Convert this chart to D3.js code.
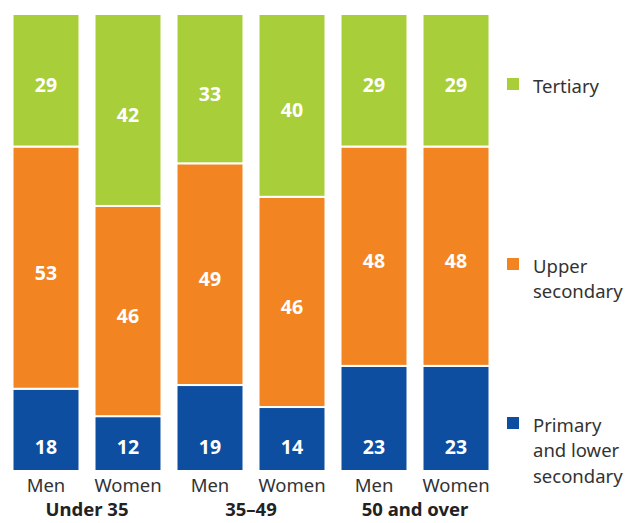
<!DOCTYPE html>
<html>
<head>
<meta charset="utf-8">
<script src="https://cdn.jsdelivr.net/npm/d3@7"></script>
<style>
  html, body { margin: 0; padding: 0; background: #fff; }
  svg { display: block; }
</style>
</head>
<body>
<svg id="chart" width="625" height="523"></svg>
<script>
// Bars: one per sex within each age group
const bars = ["Men|Under 35", "Women|Under 35", "Men|35–49", "Women|35–49", "Men|50 and over", "Women|50 and over"];
const sexLabels = ["Men", "Women", "Men", "Women", "Men", "Women"];
const ageGroups = ["Under 35", "35–49", "50 and over"];

// Educational attainment shares (%), bottom to top
const levels = ["Primary and lower secondary", "Upper secondary", "Tertiary"];
const primaryLower = [18, 12, 19, 14, 23, 23];
const upperSecondary = [53, 46, 49, 46, 48, 48];
const tertiary = [29, 42, 33, 40, 29, 29];

const colors = ["#0d4ea1", "#f28522", "#a8ce3a"];
const legendLines = [["Primary", "and lower", "secondary"], ["Upper", "secondary"], ["Tertiary"]];

const rows = bars.map((b, i) => ({
  bar: b,
  [levels[0]]: primaryLower[i],
  [levels[1]]: upperSecondary[i],
  [levels[2]]: tertiary[i]
}));

const stacked = d3.stack().keys(levels).offset(d3.stackOffsetExpand)(rows);

const svg = d3.select("#chart");
const font = "'Noto Sans', 'Open Sans', sans-serif";

const x = d3.scaleBand().domain(bars).range([12.5, 489.5]).paddingInner(0.183).paddingOuter(0);
const y = d3.scaleLinear().domain([0, 1]).range([471, 14]);
const color = d3.scaleOrdinal().domain(levels).range(colors);

const layers = svg.append("g").selectAll("g")
  .data(stacked)
  .join("g")
  .attr("fill", d => color(d.key));

layers.selectAll("rect")
  .data(d => d.map(s => Object.assign(s, { key: d.key })))
  .join("rect")
  .attr("x", d => x(d.data.bar))
  .attr("y", d => y(d[1]))
  .attr("width", x.bandwidth())
  .attr("height", d => y(d[0]) - y(d[1]))
  .attr("stroke", "#fff")
  .attr("stroke-width", 2);

// Value labels inside segments
layers.selectAll("text")
  .data(d => d)
  .join("text")
  .attr("x", d => x(d.data.bar) + x.bandwidth() / 2)
  .attr("y", d => d.key === levels[0] ? y(0) - 17 : (y(d[0]) + y(d[1])) / 2 + 12)
  .attr("text-anchor", "middle")
  .attr("fill", "#fff")
  .attr("font-family", font)
  .attr("font-weight", 700)
  .attr("font-size", 19.5)
  .text(d => d.data[d.key]);

// Sex labels under each bar
svg.append("g").selectAll("text")
  .data(bars)
  .join("text")
  .attr("x", d => x(d) + x.bandwidth() / 2)
  .attr("y", 492)
  .attr("text-anchor", "middle")
  .attr("fill", "#333")
  .attr("font-family", font)
  .attr("font-size", 18.5)
  .text((d, i) => sexLabels[i]);

// Age group labels centred under each pair
svg.append("g").selectAll("text")
  .data(ageGroups)
  .join("text")
  .attr("x", (g, i) => (x(bars[2 * i]) + x(bars[2 * i + 1]) + x.bandwidth()) / 2)
  .attr("y", 516)
  .attr("text-anchor", "middle")
  .attr("fill", "#222")
  .attr("font-family", font)
  .attr("font-weight", 700)
  .attr("font-size", 18.5)
  .text(d => d);

// Legend, each entry level with its segment in the last bar
const legendTop = [417, 258, 78];
const legend = svg.append("g").selectAll("g")
  .data(levels)
  .join("g")
  .attr("transform", (d, i) => `translate(507,${legendTop[i]})`);

legend.append("rect")
  .attr("width", 12)
  .attr("height", 12)
  .attr("fill", d => color(d));

legend.append("text")
  .attr("fill", "#333")
  .attr("font-family", font)
  .attr("font-size", 18.5)
  .selectAll("tspan")
  .data((d, i) => legendLines[i])
  .join("tspan")
  .attr("x", 26)
  .attr("y", (t, j) => 14.5 + j * 25.5)
  .text(t => t);
</script>
</body>
</html>
